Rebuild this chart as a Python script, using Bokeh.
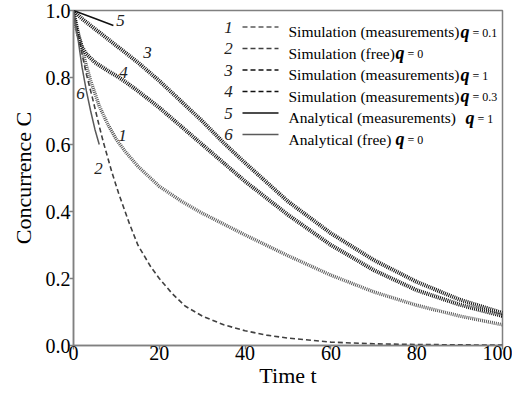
from bokeh.plotting import figure
from bokeh.models import Label, Range1d, FixedTicker, PrintfTickFormatter
from bokeh.embed import file_html
from bokeh.resources import INLINE

# ---------------- data ----------------
t1 = [0, 1, 2, 3, 4, 6, 8, 10, 12, 15, 20, 25, 30, 40, 50, 60, 70, 80, 90, 100]
c1 = [1.0, 0.94, 0.885, 0.835, 0.79, 0.715, 0.66, 0.615, 0.58, 0.535, 0.475, 0.432,
      0.395, 0.33, 0.268, 0.21, 0.16, 0.12, 0.088, 0.062]

t2 = [0, 1, 2, 3, 4.4, 6, 7, 9, 10.5, 13, 15, 18, 20, 23, 26, 30, 35, 40, 45, 50, 60, 70, 80, 90, 100]
c2 = [1.0, 0.935, 0.87, 0.81, 0.74, 0.655, 0.605, 0.515, 0.455, 0.365, 0.30, 0.235, 0.2,
      0.155, 0.118, 0.088, 0.062, 0.044, 0.031, 0.022, 0.01, 0.005, 0.003, 0.002, 0.001]

t3 = [0, 2, 5, 10, 15, 20, 25, 30, 35, 40, 50, 60, 70, 80, 90, 100]
c3 = [1.0, 0.975, 0.945, 0.895, 0.845, 0.79, 0.73, 0.67, 0.605, 0.545, 0.43, 0.335,
      0.255, 0.19, 0.137, 0.097]

t4 = [0, 0.5, 1, 2, 3, 5, 8, 10, 12, 15, 20, 25, 30, 40, 50, 60, 70, 80, 90, 100]
c4 = [1.0, 0.96, 0.93, 0.89, 0.87, 0.845, 0.82, 0.805, 0.788, 0.76, 0.71, 0.655,
      0.6, 0.49, 0.39, 0.30, 0.225, 0.165, 0.122, 0.088]

t5 = [0, 5, 9.3]
c5 = [1.0, 0.976, 0.955]

t6 = [0, 1, 2, 3, 4, 5, 6]
c6 = [1.0, 0.92, 0.83, 0.76, 0.70, 0.645, 0.60]

x_ticks = [0, 20, 40, 60, 80, 100]
y_ticks = [0.0, 0.2, 0.4, 0.6, 0.8, 1.0]

legend_nums = ["1", "2", "3", "4", "5", "6"]
legend_texts = ["Simulation (measurements)", "Simulation (free)", "Simulation (measurements)",
                "Simulation (measurements)", "Analytical (measurements)", "Analytical (free)"]
legend_q = ["= 0.1", "= 0", "= 1", "= 0.3", "= 1", "= 0"]

# ---------------- styles ----------------
GRAY_AX = "#808080"
SERIF = "Liberation Serif"

styles = [
    dict(color="#5a5a5a", width=3.5, dash="1 1"),   # 1
    dict(color="#404040", width=1.6, dash="5 3"),   # 2
    dict(color="#111111", width=4.0, dash="1 1"),   # 3
    dict(color="#111111", width=4.0, dash="1 1"),   # 4
    dict(color="#111111", width=1.5, dash="solid"), # 5
    dict(color="#5a5a5a", width=1.5, dash="solid"), # 6
]
legend_sample_dash = ["5 3", "5 3", "5 3", "5 3", "solid", "solid"]
legend_sample_color = ["#5a5a5a", "#404040", "#111111", "#111111", "#111111", "#5a5a5a"]

p = figure(width=512, height=392, x_range=Range1d(0, 100), y_range=Range1d(0, 1.0),
           output_backend="svg", toolbar_location=None,
           min_border_left=73, min_border_right=10, min_border_top=10, min_border_bottom=47)
p.grid.visible = False
p.outline_line_color = GRAY_AX
p.outline_line_width = 1.5
p.background_fill_color = "white"
p.border_fill_color = "white"

for ax in (p.xaxis[0], p.yaxis[0]):
    ax.axis_line_color = GRAY_AX
    ax.axis_line_width = 1.5
    ax.major_tick_line_color = GRAY_AX
    ax.major_tick_line_width = 1.5
    ax.major_tick_out = 4
    ax.major_tick_in = 0
    ax.minor_tick_line_color = None
    ax.major_label_text_font = SERIF
    ax.major_label_text_font_size = "20px"
    ax.major_label_text_color = "black"
    ax.axis_label_text_font = SERIF
    ax.axis_label_text_font_size = "22px"
    ax.axis_label_text_font_style = "normal"
    ax.axis_label_text_color = "black"
p.xaxis.ticker = FixedTicker(ticks=x_ticks)
p.yaxis.ticker = FixedTicker(ticks=y_ticks)
p.yaxis.formatter = PrintfTickFormatter(format="%.1f")
p.xaxis.major_label_standoff = -4
p.yaxis.major_label_standoff = -1
p.xaxis.axis_label = "Time t"
p.yaxis.axis_label = "Concurrence C"
p.xaxis.axis_label_standoff = 0
p.yaxis.axis_label_standoff = 7

# ---------------- curves ----------------
series = [(t1, c1), (t2, c2), (t3, c3), (t4, c4), (t5, c5), (t6, c6)]
for (tt, cc), st in zip(series, styles):
    p.line(tt, cc, line_color=st["color"], line_width=st["width"], line_dash=st["dash"])

# layout helpers: reference pixel position -> data position
def tx(px):
    return (px - 73) / 4.29

def cy(py):
    return (353 - py) / 343

# curve number labels
curve_label_pos = [(122, 138), (98, 172), (147, 53), (123, 73), (120, 20), (80, 95)]
for num, (px, py) in zip(legend_nums, curve_label_pos):
    p.add_layout(Label(x=tx(px), y=cy(py), text=num, text_font=SERIF, text_font_style="italic",
                       text_font_size="17px", text_align="center", text_baseline="middle",
                       text_color="#222222"))

# ---------------- legend ----------------
row_y0 = 27
row_dy = 22
num_x = 228
samp_x0, samp_x1 = 242, 278
text_x = 288
q_x = [460, 395, 460, 460, 465, 395]
for i in range(6):
    ry = row_y0 + i * row_dy
    p.add_layout(Label(x=tx(num_x), y=cy(ry), text=legend_nums[i], text_font=SERIF,
                       text_font_style="italic", text_font_size="17px", text_align="center",
                       text_baseline="middle", text_color="#222222"))
    p.line([tx(samp_x0), tx(samp_x1)], [cy(ry), cy(ry)], line_color=legend_sample_color[i],
           line_width=1.5, line_dash=legend_sample_dash[i])
    p.add_layout(Label(x=tx(text_x), y=cy(ry + 5), text=legend_texts[i], text_font=SERIF,
                       text_font_size="15.5px", text_align="left", text_baseline="alphabetic",
                       text_color="black"))
    p.add_layout(Label(x=tx(q_x[i]), y=cy(ry + 5), text="q", text_font=SERIF,
                       text_font_style="bold italic", text_font_size="18px", text_align="left",
                       text_baseline="alphabetic", text_color="black"))
    p.add_layout(Label(x=tx(q_x[i] + 12), y=cy(ry + 6), text=legend_q[i], text_font=SERIF,
                       text_font_size="12px", text_align="left", text_baseline="alphabetic",
                       text_color="black"))

open("out.html", "w").write(file_html(p, INLINE))
